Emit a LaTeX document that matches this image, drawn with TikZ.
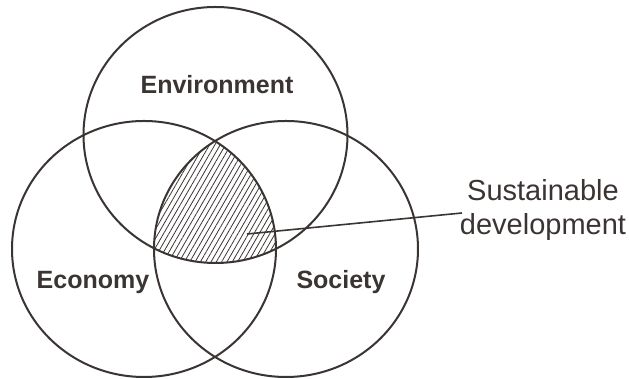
\documentclass[tikz,border=0pt]{standalone}
\usepackage{fontspec}
\setmainfont{Liberation Sans}
\usetikzlibrary{patterns.meta}
\definecolor{ink}{RGB}{58,52,50}
\begin{document}
\begin{tikzpicture}[x=0.5pt, y=0.5pt, every node/.style={text=ink},
    ring/.style={draw=ink, line width=1pt},
    lbl/.style={font=\fontsize{12.5}{15}\selectfont\bfseries, anchor=base}]
  \useasboundingbox (0,0) rectangle (629,379);
  % --- Centres (positions chosen to match the drawing) ---
  \coordinate (cenv) at (215.5,244);
  \coordinate (ceco) at (144,130);
  \coordinate (csoc) at (286,130);

  % --- Hatched overlap ---
  \begin{scope}
    \clip (cenv) ellipse [x radius=132, y radius=128];
    \clip (ceco) ellipse [x radius=132, y radius=128];
    \fill[pattern={Lines[angle=60, distance=2.3pt, line width=0.4pt]}, pattern color=ink]
      (csoc) ellipse [x radius=132, y radius=128];
  \end{scope}

  % --- Circles ---
  \draw[ring] (cenv) ellipse [x radius=132, y radius=128];
  \draw[ring] (ceco) ellipse [x radius=132, y radius=128];
  \draw[ring] (csoc) ellipse [x radius=132, y radius=128];

  % --- Labels ---
  \node[lbl] (env) at (217,285) {Environment};
  \node[lbl] (eco) at (93,90) {Economy};
  \node[lbl] (soc) at (341,90) {Society};
  \node[font=\fontsize{14.5}{17}\selectfont, align=center] (sd) at (543,169) {Sustainable\\development};

  % --- Leader line ---
  \coordinate (sdin) at (247,145);
  \coordinate (sdend) at (462,166);
  \draw[ink, line width=0.8pt] (sdin) -- (sdend);
\end{tikzpicture}
\end{document}
